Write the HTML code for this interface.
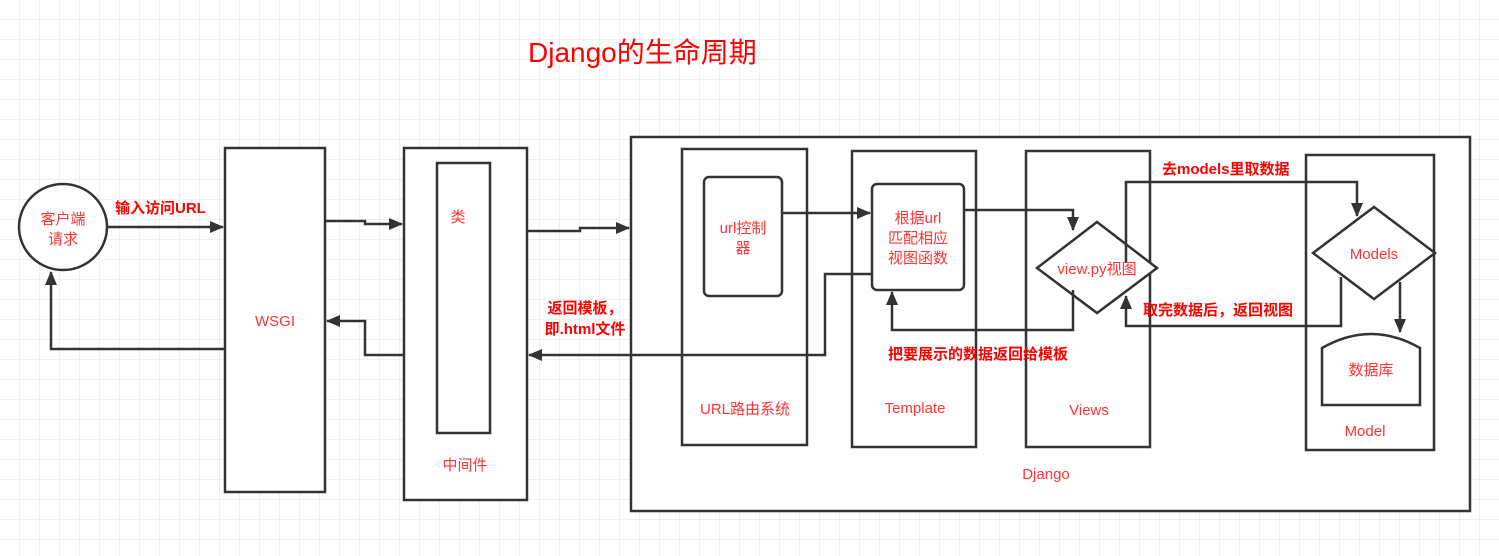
<!DOCTYPE html>
<html><head><meta charset="utf-8"><style>
html,body{margin:0;padding:0;background:#fff;}
svg{display:block;}
text{font-family:"Liberation Sans","Noto Sans CJK SC",sans-serif;fill:#ff3333;}
.b{font-weight:bold;fill:#ff0000;}
</style></head><body>
<svg width="1499" height="556" viewBox="0 0 1499 556" xmlns="http://www.w3.org/2000/svg">
<defs>
<pattern id="g" width="20" height="20" patternUnits="userSpaceOnUse">
<path d="M20 0V20H0" fill="none" stroke="#e0e0e0" stroke-width="1"/>
</pattern>
<marker id="a" markerWidth="14" markerHeight="12" refX="13" refY="6" orient="auto" markerUnits="userSpaceOnUse">
<path d="M0,0 L14,6 L0,12 Z" fill="#333"/>
</marker>
</defs>
<rect width="1499" height="556" fill="#fff"/>
<rect width="1499" height="556" fill="url(#g)"/>
<g fill="#fff" stroke="#333" stroke-width="2.5">
<ellipse cx="63" cy="227" rx="44" ry="43"/>
<rect x="225" y="148" width="100" height="344"/>
<rect x="404" y="148" width="123" height="352"/>
<rect x="437" y="163" width="53" height="270"/>
<rect x="631" y="137" width="839" height="374"/>
<rect x="682" y="149" width="125" height="296"/>
<rect x="704" y="177" width="78" height="119" rx="5"/>
<rect x="852" y="151" width="124" height="296"/>
<rect x="872" y="184" width="92" height="106" rx="5"/>
<rect x="1026" y="151" width="124" height="296"/>
<rect x="1306" y="155" width="128" height="295"/>
<path d="M1097,222 L1157,268 L1097,313 L1037,268 Z"/>
<path d="M1374,207 L1435,253 L1374,299 L1313,253 Z"/>
<path d="M1322,405 L1322,348 Q1371,320 1420,348 L1420,405 Z"/>
</g>
<g fill="none" stroke="#333" stroke-width="2.5">
<path d="M107,227 L223,227" marker-end="url(#a)"/>
<path d="M325,221 L365,221 L365,224 L402,224" marker-end="url(#a)"/>
<path d="M527,231 L580,231 L580,228 L629,228" marker-end="url(#a)"/>
<path d="M782,213 L870,213" marker-end="url(#a)"/>
<path d="M964,210 L1073,210 L1073,230" marker-end="url(#a)"/>
<path d="M872,274 L825,274 L825,355 L529,355" marker-end="url(#a)"/>
<path d="M1073,290 L1073,330 L892,330 L892,292" marker-end="url(#a)"/>
<path d="M1126,263 L1126,182 L1357,182 L1357,216" marker-end="url(#a)"/>
<path d="M1341,277 L1341,326 L1126,326 L1126,296" marker-end="url(#a)"/>
<path d="M1400,282 L1400,332" marker-end="url(#a)"/>
<path d="M404,355 L365,355 L365,321 L327,321" marker-end="url(#a)"/>
<path d="M225,349 L51,349 L51,272" marker-end="url(#a)"/>
</g>
<text x="528" y="62" font-size="28" style="fill:#ff0000">Django的生命周期</text>
<text x="63" y="224" font-size="15" text-anchor="middle">客户端</text>
<text x="63" y="244" font-size="15" text-anchor="middle">请求</text>
<text x="115" y="213" font-size="15" class="b">输入访问URL</text>
<text x="275" y="326" font-size="15" text-anchor="middle">WSGI</text>
<text x="458" y="222" font-size="15" text-anchor="middle">类</text>
<text x="465" y="470" font-size="15" text-anchor="middle">中间件</text>
<text x="585" y="313" font-size="15" class="b" text-anchor="middle">返回模板，</text>
<text x="585" y="334" font-size="15" class="b" text-anchor="middle">即.html文件</text>
<text x="743" y="233" font-size="15" text-anchor="middle">url控制</text>
<text x="743" y="253" font-size="15" text-anchor="middle">器</text>
<text x="745" y="414" font-size="15" text-anchor="middle">URL路由系统</text>
<text x="918" y="223" font-size="15" text-anchor="middle">根据url</text>
<text x="918" y="243" font-size="15" text-anchor="middle">匹配相应</text>
<text x="918" y="263" font-size="15" text-anchor="middle">视图函数</text>
<text x="915" y="413" font-size="15" text-anchor="middle">Template</text>
<text x="1097" y="274" font-size="15" text-anchor="middle">view.py视图</text>
<text x="1089" y="415" font-size="15" text-anchor="middle">Views</text>
<text x="1162" y="174" font-size="15" class="b">去models里取数据</text>
<text x="1143" y="315" font-size="15" class="b">取完数据后，返回视图</text>
<text x="888" y="359" font-size="15" class="b">把要展示的数据返回给模板</text>
<text x="1374" y="259" font-size="15" text-anchor="middle">Models</text>
<text x="1371" y="375" font-size="15" text-anchor="middle">数据库</text>
<text x="1365" y="436" font-size="15" text-anchor="middle">Model</text>
<text x="1046" y="479" font-size="15" text-anchor="middle">Django</text>
</svg>
</body></html>
